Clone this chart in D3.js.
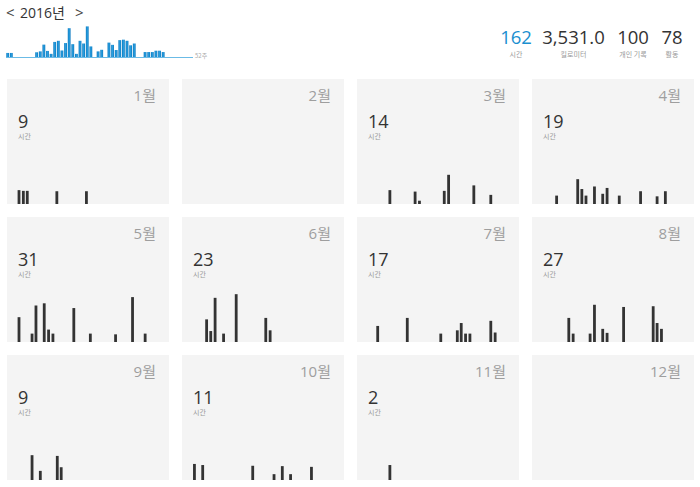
<!DOCTYPE html>
<html>
<head>
<meta charset="utf-8">
<script src="https://cdn.jsdelivr.net/npm/d3@7/dist/d3.min.js"></script>
<style>
  html, body { margin: 0; padding: 0; background: #fff; }
  svg { display: block; }
  text { font-family: "Open Sans", "Noto Sans CJK KR", sans-serif; }
  .kr { font-family: "Noto Sans CJK KR", "Open Sans", sans-serif; }
</style>
</head>
<body>
<svg id="chart" width="700" height="487"></svg>
<script>
// ---- data ----
const yearLabel = "2016년";
const weeksLabel = "52주";
// weekly values for the sparkline (52 weeks)
const weeklyValues = [1.8, 1.8, 0, 0, 0, 0, 0, 0, 2.1, 2.5, 5.5, 2.7, 1.4, 6.7, 7.2, 2.9, 6.2, 12.8, 5.7, 1.4,
  7.2, 6.0, 13.6, 4.7, 0, 2.5, 3.2, 0, 6.4, 5.4, 3.1, 7.5, 7.7, 7.2, 5.2, 6.0, 0, 0, 2.2, 2.2,
  2.2, 2.8, 2.8, 2.2, 0, 0, 0, 0, 0, 0, 0, 0];

const statValues = ["162", "3,531.0", "100", "78"];
const statLabels = ["시간", "킬로미터", "개인 기록", "활동"];

const monthNames = ["1월", "2월", "3월", "4월", "5월", "6월", "7월", "8월", "9월", "10월", "11월", "12월"];
const monthHours = [9, null, 14, 19, 31, 23, 17, 27, 9, 11, 2, null];
const hoursLabel = "시간";

// activity day-of-month (fractional = time of day) and duration in hours
const activityDays = [
  [1, 2, 2.9, 9.7, 16.5],
  [],
  [5.8, 11.6, 12.6, 18.3, 19.3, 25.1, 29.0],
  [3.9, 8.75, 9.7, 10.65, 12.6, 14.5, 15.5, 18.3, 23.2, 27.0, 28.9],
  [1, 4, 4.9, 6.8, 7.8, 8.8, 13.6, 17.4, 23.2, 27.1, 30.0],
  [3.9, 4.85, 5.85, 7.8, 10.7, 17.5, 18.5],
  [3.0, 9.8, 17.5, 21.3, 22.2, 23.2, 24.2, 29.0, 30.0],
  [6.7, 7.7, 11.6, 12.6, 14.5, 15.5, 19.3, 26.1, 27.0, 28.0],
  [4.0, 5.9, 9.8, 10.7],
  [1.1, 3.0, 14.5, 19.4, 21.3, 23.2, 28.0],
  [5.8],
  []
];
const activityHours = [
  [1.9, 1.8, 1.8, 1.75, 1.75],
  [],
  [1.9, 1.7, 0.45, 1.8, 4.0, 2.55, 1.25],
  [1.15, 3.4, 2.05, 1.15, 2.4, 1.4, 2.2, 1.15, 1.75, 1.05, 1.75],
  [3.4, 1.15, 5.0, 5.3, 1.7, 1.15, 4.65, 1.15, 1.05, 6.15, 1.15],
  [3.1, 1.5, 6.05, 1.15, 6.55, 3.3, 1.6],
  [2.2, 3.3, 1.15, 1.6, 2.6, 1.15, 1.15, 2.9, 1.3],
  [3.3, 1.15, 1.15, 5.1, 1.8, 1.25, 4.8, 4.9, 2.6, 1.8],
  [3.4, 1.25, 3.3, 1.75],
  [2.2, 2.05, 1.95, 0.8, 1.9, 0.8, 1.8],
  [2.05],
  []
];

// ---- drawing ----
const svg = d3.select("#chart");

// header
svg.append("text").attr("x", 6).attr("y", 18).attr("font-size", 15).attr("fill", "#444").text("<");
svg.append("text").attr("x", 20).attr("y", 18).attr("font-size", 14).attr("fill", "#333").text(yearLabel);
svg.append("text").attr("x", 75).attr("y", 18).attr("font-size", 15).attr("fill", "#444").text(">");

// sparkline
const spX = d3.scaleBand().domain(d3.range(weeklyValues.length)).range([6.3, 193.5]).paddingInner(0.22).paddingOuter(0);
const spY = d3.scaleLinear().domain([0, 14]).range([57, 57 - 31.5]);
const grad = svg.append("defs").append("linearGradient").attr("id", "bg").attr("x1", 0).attr("x2", 1).attr("y1", 0).attr("y2", 0);
grad.append("stop").attr("offset", "0%").attr("stop-color", "#0b78bf");
grad.append("stop").attr("offset", "50%").attr("stop-color", "#2aa0e0");
grad.append("stop").attr("offset", "100%").attr("stop-color", "#0b78bf");
svg.append("g").selectAll("rect").data(weeklyValues.map((v, i) => ({ v, i })).filter(d => d.v > 0))
  .join("rect")
  .attr("x", d => spX(d.i))
  .attr("width", spX.bandwidth())
  .attr("y", d => spY(d.v))
  .attr("height", d => spY(0) - spY(d.v))
  .attr("fill", "url(#bg)");
svg.append("line").attr("x1", 6).attr("x2", 193).attr("y1", 57.5).attr("y2", 57.5)
  .attr("stroke", "#6bbbe6").attr("stroke-width", 1);
svg.append("text").attr("class", "kr").attr("x", 195).attr("y", 57.5).attr("font-size", 6).attr("fill", "#aaa").text(weeksLabel);

// stats
const statX = [516, 573.5, 633, 672];
statValues.forEach((v, i) => {
  svg.append("text").attr("x", statX[i]).attr("y", 43.5).attr("text-anchor", "middle")
    .attr("font-size", 18.5).attr("fill", i === 0 ? "#1b8fcf" : "#333").text(v);
  svg.append("text").attr("class", "kr").attr("x", statX[i]).attr("y", 56.5).attr("text-anchor", "middle")
    .attr("font-size", 7).attr("fill", "#999").text(statLabels[i]);
});

// month panels
const panelW = 162, panelH = 125;
const colX = d3.scaleLinear().domain([0, 1]).range([7, 182]);
const rowY = d3.scaleLinear().domain([0, 1]).range([79, 217]);
const dayX = d3.scaleLinear().domain([1, 31]).range([12, 142.5]);
const hourY = d3.scaleLinear().domain([0, 7]).range([0, 51.1]);
const barW = 2.8;

monthNames.forEach((m, i) => {
  const col = i % 4, row = Math.floor(i / 4);
  const g = svg.append("g").attr("transform", `translate(${colX(col)},${rowY(row)})`);
  g.append("rect").attr("width", panelW).attr("height", panelH).attr("fill", "#f4f4f4");
  g.append("text").attr("x", panelW - 13).attr("y", 22).attr("text-anchor", "end")
    .attr("font-size", 15).attr("fill", "#9e9e9e").text(m);
  if (monthHours[i] !== null) {
    g.append("text").attr("x", 11).attr("y", 48.5).attr("font-size", 18).attr("fill", "#333").text(monthHours[i]);
    g.append("text").attr("class", "kr").attr("x", 11).attr("y", 60).attr("font-size", 7).attr("fill", "#999").text(hoursLabel);
  }
  const acts = activityDays[i].map((d, j) => ({ d, h: activityHours[i][j] }));
  g.selectAll("rect.bar").data(acts).join("rect").attr("class", "bar")
    .attr("x", a => dayX(a.d) - barW / 2)
    .attr("width", barW)
    .attr("y", a => panelH - hourY(a.h))
    .attr("height", a => hourY(a.h))
    .attr("fill", "#333");
});
</script>
</body>
</html>
